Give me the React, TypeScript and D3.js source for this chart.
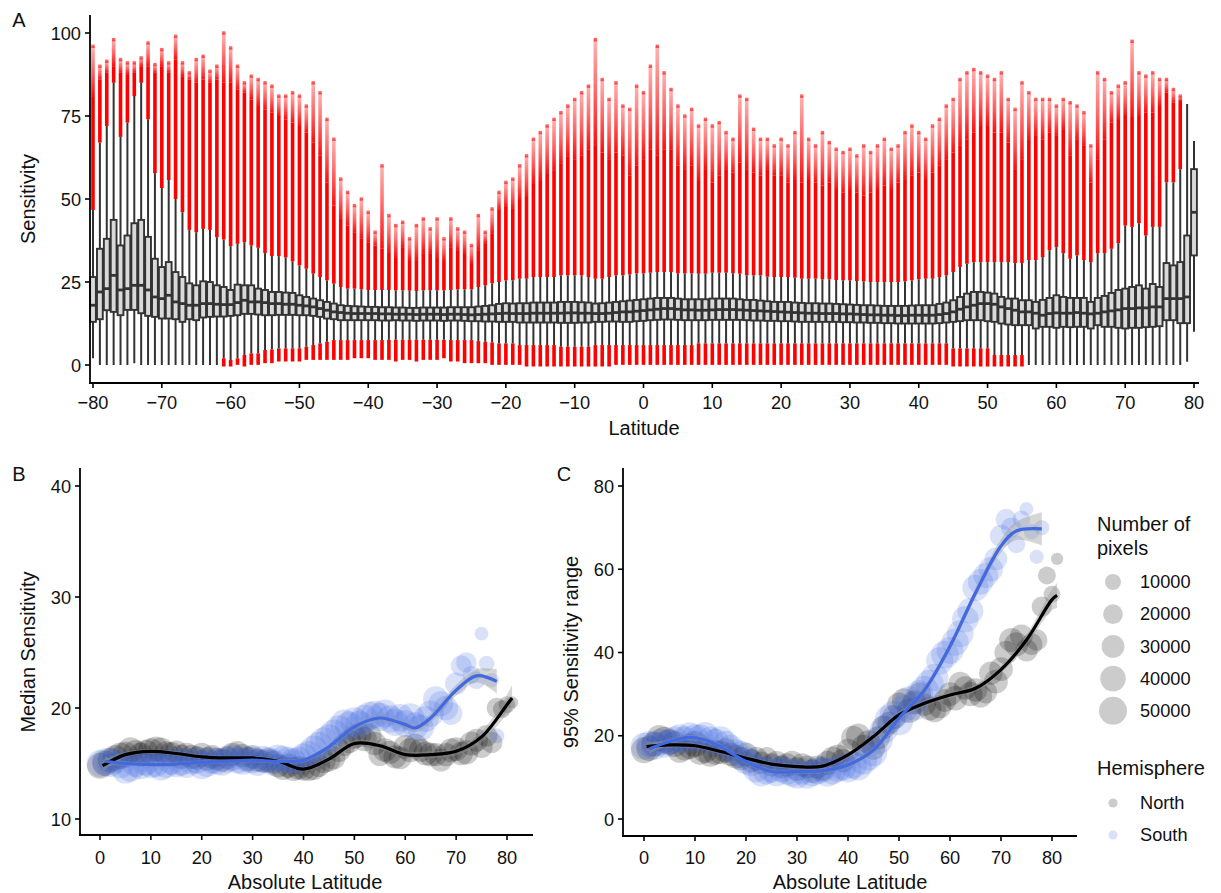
import React from 'react';
import * as d3 from 'd3';

const FONT = "'Liberation Sans', Arial, Helvetica, sans-serif";

// ---------------- Panel A: boxplots per degree latitude (-80..80) ----------------
const latA = d3.range(-80, 81);
const q1A = [
  13, 13.8, 16.5, 16, 15, 16.6, 16.6, 15.6, 14.8, 14.5, 14, 14, 13.8, 13, 13.8, 13.5, 14.3, 14.5, 14.6, 14.6, 14.8, 15, 15.4, 15.4, 15.2, 15, 15, 15.1, 15.1, 15.1,
  15, 15, 14.8, 14.5, 14, 13.8, 13.5, 13.5, 13.5, 13.5, 13.5, 13.5, 13.4, 13.4, 13.5, 13.4, 13.4, 13.3, 13.4, 13.4, 13.4, 13.3, 13.4, 13.4, 13.3, 13.2, 13.2, 13.1, 13.1, 13,
  13, 13, 12.8, 12.8, 12.8, 12.8, 12.8, 12.8, 12.7, 12.7, 12.7, 12.8, 12.8, 13, 13, 13.1, 13.1, 13, 13, 13.2, 13.3, 13.5, 13.6, 13.7, 13.7, 13.6, 13.5, 13.5, 13.5, 13.5,
  13.6, 13.6, 13.6, 13.6, 13.6, 13.5, 13.4, 13.4, 13.3, 13.3, 13.2, 13.2, 13.1, 13, 13, 13, 13, 13, 13, 12.9, 12.9, 12.8, 12.8, 12.7, 12.7, 12.6, 12.6, 12.5, 12.5, 12.5,
  12.5, 12.5, 12.5, 12.6, 12.8, 13, 13.2, 13.5, 13.5, 13.5, 13.2, 13, 12.5, 12.2, 12, 12, 12, 11, 11.5, 11.5, 11.2, 11.5, 11.4, 11.5, 11.5, 11, 12, 11.5, 11.5, 11.2,
  11, 11.2, 11.2, 11.4, 11.5, 11.7, 13.5, 13.5, 12.6, 12.6, 33,
];
const medA = [
  18, 22, 23, 27, 22.6, 23, 24, 24, 22.6, 20.5, 20, 21, 19, 18.5, 18, 18, 18.5, 18.5, 18.3, 18.2, 18.2, 18.8, 19.5, 19, 19, 18.8, 18.5, 18.5, 18.3, 18.3,
  18, 17.8, 17.5, 17, 16.5, 16, 15.8, 15.6, 15.5, 15.5, 15.5, 15.5, 15.4, 15.4, 15.3, 15.3, 15.3, 15.2, 15.3, 15.3, 15.3, 15.2, 15.3, 15.3, 15.2, 15.1, 15.2, 15.3, 15.4, 15.5,
  15.6, 15.5, 15.5, 15.5, 15.6, 15.6, 15.6, 15.6, 15.6, 15.7, 15.7, 15.6, 15.6, 15.5, 15.5, 15.6, 15.8, 16, 16, 16.2, 16.4, 16.6, 16.8, 17, 17, 16.8, 16.6, 16.6, 16.5, 16.5,
  16.6, 16.7, 16.7, 16.7, 16.6, 16.5, 16.4, 16.3, 16.2, 16.1, 16, 15.9, 15.8, 15.7, 15.6, 15.6, 15.5, 15.5, 15.5, 15.4, 15.4, 15.3, 15.2, 15.1, 15.1, 15, 15, 14.9, 14.9, 15,
  15, 15, 15, 15.2, 15.5, 16, 16.8, 17.5, 18, 18.5, 18.5, 18.3, 17.5, 17, 16.5, 16, 16, 15.6, 15, 15.5, 15.7, 15.6, 15.6, 15.8, 15.6, 15.4, 15.6, 16, 16.3, 16.6,
  17, 17, 17.2, 17.2, 17.5, 17.5, 20, 20, 20, 20.5, 46,
];
const q3A = [
  26.5, 35, 38, 43.7, 36, 39, 42.7, 43.7, 38.6, 32, 29.5, 31, 28, 26.5, 24.6, 24, 25.2, 25, 24, 23.5, 22.6, 24.2, 24, 24, 23, 22.6, 22, 22, 21.8, 21.7,
  21, 20.5, 20, 19.5, 19, 18.5, 18, 17.8, 17.7, 17.6, 17.5, 17.5, 17.4, 17.4, 17.3, 17.3, 17.2, 17.2, 17.3, 17.3, 17.3, 17.3, 17.4, 17.4, 17.4, 17.4, 17.6, 17.8, 18, 18.4,
  18.6, 18.5, 18.6, 18.6, 18.8, 18.8, 18.8, 18.8, 19, 19, 19, 18.9, 18.8, 18.5, 18.6, 18.8, 19, 19.2, 19.4, 19.6, 19.8, 20, 20.2, 20.2, 20.2, 20, 19.8, 19.8, 19.8, 19.8,
  20, 20, 20, 20, 19.8, 19.6, 19.6, 19.4, 19.2, 19, 19, 19, 18.8, 18.7, 18.6, 18.6, 18.5, 18.5, 18.4, 18.3, 18.2, 18.1, 18, 18, 17.9, 17.8, 17.8, 17.8, 17.8, 17.9,
  18, 18, 18, 18.4, 18.8, 19.5, 20.5, 21.5, 22, 22, 21.8, 21.5, 20.5, 20, 20, 19.5, 19.5, 19, 19.6, 20.2, 21, 20.5, 20.2, 20.2, 20.2, 19, 20.2, 20.8, 21.7, 22.6,
  23, 23.5, 24, 23, 24.4, 23.5, 30.7, 30, 31, 39, 59,
];
const wloA = [
  2, 0, 0, 0, 0, 0, 0.5, 0, 0, 0, 0, 0, 0, 0, 0, 0, 0, 0, 0, 2, 1.5, 2, 3, 3.5, 3.5, 4.5, 4.7, 5, 5, 5,
  5, 5.5, 6, 6.5, 7, 7.5, 7.5, 7.5, 7.5, 7.5, 7.5, 7.5, 7.5, 7.6, 7.6, 7.6, 7.6, 7.6, 7.6, 7.6, 7.6, 7.6, 7.5, 7.5, 7.5, 7.5, 7.2, 7, 6.8, 6.5,
  6.5, 6.5, 6, 6, 6, 6, 6, 6, 5.5, 5.5, 5.5, 5.5, 5.5, 6, 6, 6, 6, 6, 6, 6, 6, 6, 6, 6, 6, 6, 6, 6, 6.5, 6.5,
  6.5, 6.5, 6.5, 6.5, 6.5, 6.5, 6.5, 6.5, 6.5, 6.5, 6.5, 6.5, 6.5, 6.5, 6.5, 6.5, 6.5, 6.5, 6.5, 6.5, 6.5, 6.5, 6.5, 6.5, 6.5, 6.5, 6.5, 6.5, 6.5, 6.5,
  6.5, 6.5, 6.5, 6.5, 6.5, 5, 5, 5, 5, 5, 5, 3, 3, 3, 3, 3, 0, 0, 0, 0, 0, 0, 0, 0, 0, 0, 0, 0, 0, 0,
  0, 0, 0, 0, 0, 0, 0, 0, 0, 1, 10,
];
const whiA = [
  46.7, 67, 72, 85, 68.7, 73, 81, 85, 74, 57.8, 53.3, 55.7, 50, 46, 40.7, 40, 41, 40.7, 38.5, 37.8, 35.8, 36.5, 37, 36, 35.3, 33.7, 32.8, 32.8, 32.4, 31.2,
  30, 29, 27.5, 26.5, 25.5, 24.5, 23.5, 23, 23, 22.8, 22.6, 22.6, 22.6, 22.6, 22.5, 22.5, 22.4, 22.3, 22.5, 22.5, 22.5, 22.5, 22.6, 22.8, 22.8, 22.8, 23.5, 24, 24.6, 25,
  25.5, 25.5, 26, 26, 26.5, 26.5, 26.5, 26.5, 27, 27, 27, 27, 26.5, 26, 26, 26.5, 27, 27, 27.3, 27.6, 27.6, 27.8, 28, 28, 28, 27.6, 27.6, 27.6, 27.5, 27.5,
  27.8, 27.8, 27.8, 27.6, 27.5, 27, 27, 27, 26.6, 26.5, 26.5, 26.5, 26.3, 26, 26, 26, 25.8, 25.8, 25.6, 25.5, 25.5, 25.3, 25.2, 25, 25, 25, 25, 25, 25.2, 25.5,
  25.8, 26, 26, 26.5, 27, 28, 29.5, 30.5, 31, 31, 31, 31, 31, 31, 30.7, 30.7, 31.6, 31.6, 32.5, 34.6, 35.5, 33.7, 32, 33, 31.6, 31, 33.7, 33.7, 35, 36.7,
  42, 41.6, 42.7, 39, 41.6, 41.6, 55, 55, 59, 78.6, 67.5,
];
const rloA = [
  2, 0, 0, 0, 0, 0, 0.5, 0, 0, 0, 0, 0, 0, 0, 0, 0, 0, 0, 0, 0, 0, 0.5, 0, 0.5, 0.5, 1, 1, 1.5, 1.5, 1.5,
  1.5, 2, 2, 2, 2, 2, 2, 2, 2.5, 2.5, 2.5, 2, 2, 2, 1.5, 2, 2, 1.5, 2, 2, 2, 2.5, 1.5, 1.5, 1, 1, 1, 1, 0.5, 0.5,
  0.5, 0.5, 0.5, 0, 0, 0, 0, 0, 0, 0, 0, 0, 0, 0, 0, 0, 0.5, 0.5, 0.5, 0.5, 0.5, 0.5, 0.5, 0.5, 0.5, 0.5, 0.5, 0.5, 0.5, 0.5,
  0.5, 0.5, 0.5, 0.5, 0.5, 0.5, 0.5, 0.5, 0.5, 0.5, 0.5, 0.5, 0.5, 0.5, 0.5, 0.5, 0.5, 0.5, 0.5, 0.5, 0.5, 0.5, 0.5, 0.5, 0.5, 0.5, 0.5, 0.5, 0.5, 0.5,
  0.5, 0.5, 0.5, 0.5, 0.5, 0, 0, 0, 0, 0, 0, 0, 0, 0, 0, 0, 0, 0, 0, 0, 0, 0, 0, 0, 0, 0, 0, 0, 0, 0,
  0, 0, 0, 0, 0, 0, 0, 0, 0, 1, 10,
];
const rtopA = [
  81, 86, 88, 90, 88, 87.6, 88, 90, 90, 88, 90, 88, 92, 87, 86, 85, 86, 85, 86, 85, 85, 83, 82, 80, 78, 77, 76, 75, 74, 73,
  72, 70, 67, 63, 55, 48, 44, 42, 40, 38, 37, 36, 35, 34, 32.5, 35.5, 31.6, 31.6, 33.7, 33.7, 32.5, 31.6, 35.5, 34.6, 33.7, 30.7, 34.6, 36.7, 39.7, 46.7,
  47.6, 47, 49.7, 50.6, 54.8, 55.7, 57.8, 58.7, 60.8, 62.7, 62, 63, 65, 66, 64, 62, 64, 63, 57, 60, 62, 65, 63, 65, 65, 60, 59, 60, 55.7, 59,
  55, 57, 59, 58, 61, 59, 58, 57, 59, 57, 57, 55, 56, 55, 56, 55, 54, 55, 53, 52, 53, 52, 51, 52, 53, 54, 53, 55, 56, 57,
  58, 56, 58, 60, 62, 64, 66, 68, 70, 72, 72, 70, 70, 67, 59, 62, 67.8, 69, 68, 70, 69, 70.8, 63, 68, 66, 55, 62, 68, 73, 73.8,
  75, 74.7, 75, 76, 76, 78, 82, 79, 79.5, 78.6, 67.5,
];
const rmaxA = [
  96, 90, 91.5, 98, 92, 91, 91, 92.5, 97, 90.5, 95, 91, 99, 91, 88, 92, 93, 88.5, 90, 100, 95.5, 90, 85, 87, 86, 85, 84, 81, 81, 82,
  81, 78, 85, 82, 74, 68, 56, 52, 48, 50, 46, 40, 60, 45, 42, 43, 38, 42, 44, 41, 44, 38, 44, 41, 40, 36, 45, 40, 47, 52,
  55, 56, 60, 63, 68, 70, 72, 74, 76, 78, 80, 82, 84, 98, 86, 80, 85, 78, 77, 84, 82, 90, 96, 88, 83, 78, 75, 77, 72, 74,
  72, 73, 70, 68, 81, 80, 71, 68, 68, 66, 68, 66, 70, 81, 68, 66, 70, 67, 65, 64, 65, 63, 66, 64, 66, 68, 65, 66, 70, 72,
  70, 68, 72, 74, 78, 80, 86, 88, 89, 88, 87, 86, 88, 80, 77, 85, 82, 80, 80, 80, 78, 80, 79, 78, 76, 66, 88, 86, 82, 84,
  85, 97.5, 88, 87, 88, 86, 86, 83, 81, 78.6, 67.5,
];
const xTicksA = d3.range(-80, 81, 10);
const yTicksA = [0, 25, 50, 75, 100];

// ---------------- Panels B & C: per absolute latitude ----------------
const latN = d3.range(0, 82);
const medN = [
  14.8, 15, 15.3, 15.5, 15.7, 15.8, 16.2, 16, 15.8, 16, 16.1, 16.3, 16.2, 15.9, 15.8, 16, 15.6, 15.8, 15.6, 15.5,
  15.8, 15.4, 15.6, 15.4, 15.3, 15.5, 15.8, 16, 15.7, 15.4, 15.6, 15.3, 15.2, 15.3, 15.1, 14.8, 14.6, 14.8, 14.5, 14.6,
  14.5, 14.5, 14.6, 14.8, 15.2, 15.3, 15.5, 16.2, 16.7, 17, 17.4, 17.6, 17.2, 17.5, 16.8, 15.8, 16.2, 16, 15.6, 15.5,
  16.5, 16.2, 16.6, 16.2, 15.9, 15.8, 15.8, 15.3, 15.8, 16.2, 16.3, 15.9, 16, 16.8, 17.1, 16.5, 17.5, 16.9, 20, 19.9,
  20.3, 20.5,
];
const rangeN = [
  16.5, 17, 18, 19.5, 19, 18.5, 18, 16.5, 17, 17.5, 18, 16, 16.5, 15.5, 16, 16, 16.5, 15.5, 15, 14.5,
  15.5, 14, 14.5, 13.5, 14.5, 13, 13.5, 12.5, 13, 13.5, 12, 13, 12.5, 11.5, 12.5, 12, 13.5, 14.5, 15, 14,
  16.5, 19.5, 20, 17.5, 18.5, 17, 19.5, 22, 23, 24.5, 27.5, 28.5, 26, 28, 30, 27.5, 26.5, 26, 27, 28.5,
  30, 29, 32.5, 31.5, 30, 31, 29.5, 30.5, 35, 33, 36, 40, 43, 42, 44, 40.5, 42, 43, 51, 58.5,
  54, 62.5,
];
const npixN = [
  42000, 40000, 38000, 41000, 44000, 40000, 42000, 38000, 36000, 40000,
  42000, 38000, 40000, 36000, 38000, 34000, 36000, 33000, 35000, 32000,
  34000, 32000, 33000, 30000, 32000, 31000, 33000, 30000, 32000, 34000,
  33000, 32000, 30000, 34000, 31000, 33000, 35000, 36000, 34000, 33000,
  32000, 34000, 36000, 30000, 33000, 31000, 30000, 32000, 30000, 33000,
  34000, 35000, 36000, 34000, 32000, 30000, 33000, 31000, 32000, 30000,
  33000, 36000, 34000, 32000, 35000, 33000, 31000, 30000, 32000, 34000,
  33000, 32000, 35000, 34000, 30000, 28000, 26000, 25000, 22000, 15000,
  12000, 2000,
];
const latS = d3.range(0, 79);
const medS = [
  15, 15.2, 15, 15.3, 14.9, 14.4, 14.6, 15, 14.8, 15.1, 14.9, 15, 14.7, 14.9, 15.2, 15, 15.1, 14.9, 15.2, 15.3,
  14.8, 15, 15.3, 15.2, 15.1, 15.4, 15.5, 15.3, 15.2, 15.4, 15.3, 15.1, 15.4, 15.3, 15.1, 15.5, 15.4, 15.3, 15.2, 15.3,
  15.6, 15.8, 16.3, 16.6, 17, 17.3, 17.7, 18.1, 18.6, 18.4, 18.8, 18.5, 19, 19.3, 19.4, 19.2, 19.5, 19, 18.7, 19.1,
  18.6, 19.2, 18.4, 18.2, 19, 19.5, 20.8, 20.4, 20, 19.5, 22.2, 23.8, 24.1, 23, 22.5, 26.7, 24, 22.5, 17.5,
];
const rangeS = [
  17.5, 18, 17.5, 18.5, 18, 18.5, 19, 19.5, 19, 20, 19.5, 19.5, 20, 19, 18.5, 19, 18, 17, 16, 15.5,
  14, 13.5, 12, 11, 11.5, 12, 11, 12, 11.5, 11, 10.5, 11.5, 10.5, 11, 11.5, 12, 11, 11.5, 12, 12.5,
  12, 13, 12.5, 14, 15, 16, 19, 21.5, 24, 25, 23.5, 26.5, 28.5, 27, 30, 31, 32.5, 34, 38, 39.5,
  40.5, 42.5, 44.5, 48, 50, 55.5, 57, 58.5, 60, 62.5, 68, 72, 70, 66, 72, 74.5, 69, 63, 70,
];
const npixS = [
  45000, 43000, 46000, 44000, 47000, 45000, 48000, 46000, 47000, 45000,
  46000, 44000, 47000, 45000, 46000, 48000, 44000, 45000, 43000, 46000,
  47000, 45000, 46000, 44000, 45000, 47000, 43000, 44000, 46000, 45000,
  44000, 46000, 45000, 43000, 44000, 46000, 45000, 44000, 42000, 45000,
  46000, 48000, 47000, 49000, 50000, 48000, 51000, 49000, 50000, 52000,
  51000, 50000, 52000, 50000, 49000, 51000, 50000, 48000, 47000, 49000,
  46000, 47000, 45000, 44000, 42000, 43000, 40000, 38000, 36000, 30000,
  28000, 24000, 22000, 15000, 14000, 5000, 9000, 6000, 8000,
];

// smoothed (loess) curves, knots
const smLatBN = [0.5, 5, 10, 15, 20, 25, 30, 35, 40, 45, 50, 55, 60, 65, 70, 75, 80, 81];
const smBN = [14.8, 15.8, 16.1, 15.9, 15.6, 15.5, 15.5, 15.2, 14.5, 15.4, 16.8, 16.6, 15.8, 15.8, 16.1, 17.4, 20.3, 20.9];
const seBN = [0.5, 0.25, 0.2, 0.2, 0.2, 0.2, 0.2, 0.2, 0.2, 0.25, 0.3, 0.3, 0.3, 0.3, 0.35, 0.5, 0.9, 1.2];
const smLatBS = [1, 5, 10, 15, 20, 25, 30, 35, 40, 45, 50, 55, 60, 62, 65, 70, 74, 78];
const smBS = [15.2, 15.0, 14.9, 14.95, 15.1, 15.2, 15.3, 15.2, 15.3, 16.5, 18.3, 19.1, 18.5, 18.2, 19.1, 21.6, 22.9, 22.4];
const seBS = [0.4, 0.2, 0.2, 0.2, 0.2, 0.2, 0.2, 0.2, 0.2, 0.25, 0.3, 0.3, 0.3, 0.35, 0.4, 0.5, 0.6, 1.1];
const smLatCN = [0.5, 5, 10, 15, 20, 25, 30, 35, 40, 45, 50, 55, 60, 65, 70, 75, 80, 81];
const smCN = [17.4, 17.8, 17.6, 16.2, 14.6, 13.2, 12.6, 12.7, 15.4, 19.8, 25, 27.8, 29.8, 31.4, 35.9, 43, 52.7, 53.7];
const seCN = [1.2, 0.7, 0.6, 0.6, 0.6, 0.6, 0.6, 0.6, 0.6, 0.7, 0.8, 0.8, 0.8, 0.8, 0.9, 1.2, 2.5, 3];
const smLatCS = [1, 5, 9, 12, 15, 20, 25, 30, 35, 40, 45, 50, 55, 60, 65, 70, 73, 78];
const smCS = [16.8, 18.6, 19.6, 19, 17.4, 13.8, 11.4, 11.4, 11.6, 13, 16.6, 24.2, 31, 41.5, 54.3, 65.6, 69.2, 69.7];
const seCS = [1.2, 0.7, 0.6, 0.6, 0.6, 0.6, 0.6, 0.6, 0.6, 0.6, 0.7, 0.8, 0.9, 1, 1.2, 1.6, 2.2, 4];

const xTicksBC = d3.range(0, 81, 10);
const yTicksB = [10, 20, 30, 40];
const yTicksC = [0, 20, 40, 60, 80];
const sizeBreaks = [10000, 20000, 30000, 40000, 50000];
const hemispheres = ['North', 'South'];

const BLUE = '#4169e1';
const minus = (v: number) => (v < 0 ? '\u2212' + Math.abs(v) : String(v));

export default function App() {
  const W = 1221;
  const H = 893;

  // scales
  const xA = d3.scaleLinear().domain([-80, 80]).range([93, 1194]);
  const yA = d3.scaleLinear().domain([0, 100]).range([365, 33]);
  const xB = d3.scaleLinear().domain([0, 80]).range([100, 507]);
  const yB = d3.scaleLinear().domain([10, 40]).range([819, 486]);
  const xC = d3.scaleLinear().domain([0, 80]).range([644, 1052]);
  const yC = d3.scaleLinear().domain([0, 80]).range([819, 486]);
  const area = d3.scaleLinear().domain([0, 50000]).range([31, 196]);
  const rSize = (n: number) => Math.sqrt(area(n));

  const boxW = 5.8;
  const redW = 3.6;

  const tickFont = 18.2;
  const titleFont = 20;

  const lineGen = (xs: any, ys: any, lats: number[], vals: number[]) =>
    d3.line<number>().x((_, i) => xs(lats[i])).y((d) => ys(d)).curve(d3.curveCatmullRom.alpha(0.5))(vals) || '';
  const bandGen = (xs: any, ys: any, lats: number[], vals: number[], se: number[]) =>
    d3
      .area<number>()
      .x((_, i) => xs(lats[i]))
      .y0((d, i) => ys(d - se[i]))
      .y1((d, i) => ys(d + se[i]))
      .curve(d3.curveCatmullRom.alpha(0.5))(vals) || '';

  const text = (x: number, y: number, s: string, opts: any = {}) => (
    <text x={x} y={y} fontFamily={FONT} fontSize={opts.size ?? tickFont} fill={opts.fill ?? '#111'}
      textAnchor={opts.anchor ?? 'middle'} transform={opts.transform}>{s}</text>
  );

  return (
    <svg width={W} height={H} style={{ position: 'absolute', left: 0, top: 0, background: '#fff' }}>
      <defs>
        <linearGradient id="fade" x1="0" y1="1" x2="0" y2="0">
          <stop offset="0" stopColor="#ff0000" stopOpacity={0.95} />
          <stop offset="0.5" stopColor="#ff0000" stopOpacity={0.6} />
          <stop offset="1" stopColor="#ff0000" stopOpacity={0.3} />
        </linearGradient>
      </defs>
      <rect x={0} y={0} width={W} height={H} fill="#fff" />

      {/* ================= Panel A ================= */}
      {text(19, 27, 'A', { size: 20 })}
      <g>
        {latA.map((lat, i) => {
          const cx = xA(lat);
          const els: any[] = [];
          if (rmaxA[i] > whiA[i]) {
            if (rtopA[i] > whiA[i]) {
              els.push(<rect key="ut" x={cx - redW / 2} y={yA(rtopA[i])} width={redW} height={yA(whiA[i]) - yA(rtopA[i])} fill="#ff0000" />);
            }
            const base = Math.max(rtopA[i], whiA[i]);
            if (rmaxA[i] > base) {
              els.push(<rect key="uf" x={cx - redW / 2} y={yA(rmaxA[i])} width={redW} height={yA(base) - yA(rmaxA[i])} fill="url(#fade)" />);
              els.push(<rect key="um" x={cx - 1.7} y={yA(rmaxA[i]) - 1.7} width={3.4} height={3.4} fill="#ff0000" opacity={0.6} />);
            }
          }
          if (rloA[i] < wloA[i]) {
            els.push(<rect key="lo" x={cx - redW / 2} y={yA(wloA[i])} width={redW} height={yA(rloA[i]) - yA(wloA[i]) + 1.5} fill="#ff0000" />);
          }
          els.push(<line key="w" x1={cx} x2={cx} y1={yA(wloA[i])} y2={yA(whiA[i])} stroke="#333" strokeWidth={2} />);
          els.push(<rect key="b" x={cx - boxW / 2} y={yA(q3A[i])} width={boxW} height={yA(q1A[i]) - yA(q3A[i])} fill="#d9d9d9" stroke="#333" strokeWidth={1.9} />);
          els.push(<line key="m" x1={cx - boxW / 2} x2={cx + boxW / 2} y1={yA(medA[i])} y2={yA(medA[i])} stroke="#333" strokeWidth={2.8} />);
          return <g key={lat}>{els}</g>;
        })}
      </g>
      <line x1={90} x2={90} y1={15} y2={383} stroke="#000" strokeWidth={1.8} />
      <line x1={89} x2={1199} y1={383} y2={383} stroke="#000" strokeWidth={1.8} />
      {yTicksA.map((t) => (
        <g key={'ya' + t}>
          <line x1={85} x2={90} y1={yA(t)} y2={yA(t)} stroke="#000" strokeWidth={1.6} />
          {text(81, yA(t) + 6.5, String(t), { anchor: 'end' })}
        </g>
      ))}
      {xTicksA.map((t) => (
        <g key={'xa' + t}>
          <line x1={xA(t)} x2={xA(t)} y1={383} y2={388} stroke="#000" strokeWidth={1.6} />
          {text(xA(t), 409, minus(t))}
        </g>
      ))}
      {text(644, 435, 'Latitude', { size: titleFont })}
      {text(35, 199, 'Sensitivity', { size: titleFont, transform: 'rotate(-90 35 199)' })}

      {/* ================= Panel B ================= */}
      {text(19, 481, 'B', { size: 20 })}
      <g>
        {latN.map((lat, i) => (
          <circle key={'bn' + lat} cx={xB(lat)} cy={yB(medN[i])} r={rSize(npixN[i])} fill="#000" fillOpacity={0.2} />
        ))}
        {latS.map((lat, i) => (
          <circle key={'bs' + lat} cx={xB(lat)} cy={yB(medS[i])} r={rSize(npixS[i])} fill={BLUE} fillOpacity={0.2} />
        ))}
        <path d={bandGen(xB, yB, smLatBN, smBN, seBN)} fill="#999" fillOpacity={0.4} />
        <path d={bandGen(xB, yB, smLatBS, smBS, seBS)} fill="#999" fillOpacity={0.4} />
        <path d={lineGen(xB, yB, smLatBN, smBN)} fill="none" stroke="#000" strokeWidth={3.2} />
        <path d={lineGen(xB, yB, smLatBS, smBS)} fill="none" stroke={BLUE} strokeWidth={3.2} />
      </g>
      <line x1={80} x2={80} y1={468} y2={835} stroke="#000" strokeWidth={1.8} />
      <line x1={79} x2={533} y1={835} y2={835} stroke="#000" strokeWidth={1.8} />
      {yTicksB.map((t) => (
        <g key={'yb' + t}>
          <line x1={75} x2={80} y1={yB(t)} y2={yB(t)} stroke="#000" strokeWidth={1.6} />
          {text(71, yB(t) + 6.5, String(t), { anchor: 'end' })}
        </g>
      ))}
      {xTicksBC.map((t) => (
        <g key={'xb' + t}>
          <line x1={xB(t)} x2={xB(t)} y1={835} y2={840} stroke="#000" strokeWidth={1.6} />
          {text(xB(t), 864, String(t))}
        </g>
      ))}
      {text(305, 889, 'Absolute Latitude', { size: titleFont })}
      {text(35, 652, 'Median Sensitivity', { size: titleFont, transform: 'rotate(-90 35 652)' })}

      {/* ================= Panel C ================= */}
      {text(564, 481, 'C', { size: 20 })}
      <g>
        {latN.map((lat, i) => (
          <circle key={'cn' + lat} cx={xC(lat)} cy={yC(rangeN[i])} r={rSize(npixN[i])} fill="#000" fillOpacity={0.2} />
        ))}
        {latS.map((lat, i) => (
          <circle key={'cs' + lat} cx={xC(lat)} cy={yC(rangeS[i])} r={rSize(npixS[i])} fill={BLUE} fillOpacity={0.2} />
        ))}
        <path d={bandGen(xC, yC, smLatCN, smCN, seCN)} fill="#999" fillOpacity={0.4} />
        <path d={bandGen(xC, yC, smLatCS, smCS, seCS)} fill="#999" fillOpacity={0.4} />
        <path d={lineGen(xC, yC, smLatCN, smCN)} fill="none" stroke="#000" strokeWidth={3.2} />
        <path d={lineGen(xC, yC, smLatCS, smCS)} fill="none" stroke={BLUE} strokeWidth={3.2} />
      </g>
      <line x1={623} x2={623} y1={468} y2={836} stroke="#000" strokeWidth={1.8} />
      <line x1={622} x2={1077} y1={836} y2={836} stroke="#000" strokeWidth={1.8} />
      {yTicksC.map((t) => (
        <g key={'yc' + t}>
          <line x1={618} x2={623} y1={yC(t)} y2={yC(t)} stroke="#000" strokeWidth={1.6} />
          {text(614, yC(t) + 6.5, String(t), { anchor: 'end' })}
        </g>
      ))}
      {xTicksBC.map((t) => (
        <g key={'xc' + t}>
          <line x1={xC(t)} x2={xC(t)} y1={836} y2={841} stroke="#000" strokeWidth={1.6} />
          {text(xC(t), 864, String(t))}
        </g>
      ))}
      {text(850, 889, 'Absolute Latitude', { size: titleFont })}
      {text(578, 652, '95% Sensitivity range', { size: titleFont, transform: 'rotate(-90 578 652)' })}

      {/* ================= Legend ================= */}
      {text(1097, 531, 'Number of', { size: titleFont, anchor: 'start' })}
      {text(1097, 555, 'pixels', { size: titleFont, anchor: 'start' })}
      {sizeBreaks.map((b, i) => {
        const cy = 582 + i * 32.2;
        return (
          <g key={'sb' + b}>
            <circle cx={1113} cy={cy} r={rSize(b)} fill="#000" fillOpacity={0.2} />
            {text(1140, cy + 6.2, String(b), { anchor: 'start' })}
          </g>
        );
      })}
      {text(1097, 775, 'Hemisphere', { size: titleFont, anchor: 'start' })}
      {hemispheres.map((h, i) => {
        const cy = 803 + i * 32;
        return (
          <g key={'h' + h}>
            <circle cx={1113} cy={cy} r={4.6} fill={h === 'North' ? '#000' : BLUE} fillOpacity={0.2} />
            {text(1140, cy + 6.2, h, { anchor: 'start' })}
          </g>
        );
      })}
    </svg>
  );
}
